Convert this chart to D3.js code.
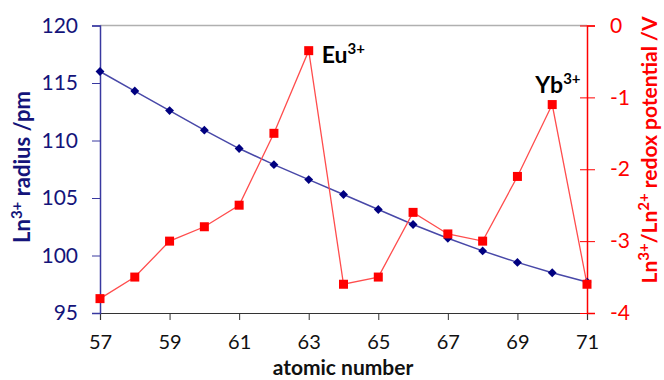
<!DOCTYPE html>
<meta charset="utf-8">
<style>
    body { margin: 0; background: #fff; overflow: hidden; }
    text { font-family: Lato, "Open Sans", sans-serif; }
</style>
<svg id="canvas" width="664" height="380"></svg>
<script src="https://d3js.org/d3.v7.min.js"></script>
<script>

    var atomicNumbers = [57, 58, 59, 60, 61, 62, 63, 64, 65, 66, 67, 68, 69, 70, 71];
    var radius = [116.0, 114.3, 112.6, 110.9, 109.3, 107.9, 106.6, 105.3, 104.0, 102.7, 101.5, 100.4, 99.4, 98.5, 97.7];
    var potential = [-3.8, -3.5, -3.0, -2.8, -2.5, -1.5, -0.35, -3.6, -3.5, -2.6, -2.9, -3.0, -2.1, -1.1, -3.6];
    var xTicks = [57, 59, 61, 63, 65, 67, 69, 71];
    var leftTicks = [95, 100, 105, 110, 115, 120];
    var rightTicks = [-4, -3, -2, -1, 0];
    var notes = [{z: 63, label: "Eu"}, {z: 70, label: "Yb"}];

    var svg = d3.select("svg"),
        pLeft = 100, pRight = 587, pTop = 25.5, pBottom = 313;

    var blueAxis = "#3838a0", navy = "#14147a", red = "#ff0000";

    var x = d3.scaleLinear().domain([57, 71]).range([pLeft, pRight]);
    var yL = d3.scaleLinear().domain([95, 120]).range([pBottom, pTop]);
    var yR = d3.scaleLinear().domain([-4, 0]).range([pBottom, pTop]);

    // top border
    svg.append("line")
       .attr("x1", pLeft).attr("x2", pRight)
       .attr("y1", pTop).attr("y2", pTop)
       .attr("stroke", "#b0b0b0").attr("stroke-width", 1.5);

    // x axis
    var gx = svg.append("g")
                .attr("transform", "translate(0," + pBottom + ")")
                .call(d3.axisBottom(x).tickValues(xTicks).tickSize(7).tickPadding(15).tickFormat(d3.format("d")));
    gx.select(".domain").attr("stroke", "#333").attr("stroke-width", 1.2);
    gx.selectAll(".tick line").attr("stroke", "#333");
    gx.selectAll("text").attr("font-size", 20).attr("fill", "#111").attr("font-family", "Lato, sans-serif");

    // left axis
    var gl = svg.append("g")
                .attr("transform", "translate(" + pLeft + ",0)")
                .call(d3.axisLeft(yL).tickValues(leftTicks).tickSize(8).tickPadding(14));
    gl.select(".domain").attr("stroke", blueAxis).attr("stroke-width", 1.5);
    gl.selectAll(".tick line").attr("stroke", blueAxis);
    gl.selectAll("text").attr("font-size", 21).attr("fill", navy).attr("font-family", "Lato, sans-serif");

    // right axis
    var gr = svg.append("g")
                .attr("transform", "translate(" + pRight + ",0)")
                .call(d3.axisRight(yR).tickValues(rightTicks).tickSize(8).tickPadding(15).tickFormat(d3.format("d")));
    gr.select(".domain").attr("stroke", red).attr("stroke-width", 1.5);
    gr.selectAll(".tick line").attr("stroke", red).attr("x1", -7);
    gr.selectAll("text").attr("font-size", 21).attr("fill", red).attr("font-family", "Lato, sans-serif")
      .text(function(d) { return d < 0 ? "-" + Math.abs(d) : d; });

    // blue series
    var blueData = atomicNumbers.map(function(z, i) { return {z: z, v: radius[i]}; });
    svg.append("path")
       .datum(blueData)
       .attr("fill", "none")
       .attr("stroke", "#4848a8")
       .attr("stroke-width", 1.5)
       .attr("d", d3.line().x(function(d) { return x(d.z); }).y(function(d) { return yL(d.v); }));
    svg.append("g").selectAll("path")
       .data(blueData)
       .enter().append("path")
       .attr("d", d3.symbol().type(d3.symbolDiamond2).size(50))
       .attr("fill", "#000080")
       .attr("transform", function(d) { return "translate(" + x(d.z) + "," + yL(d.v) + ")"; });

    // red series
    var redData = atomicNumbers.map(function(z, i) { return {z: z, v: potential[i]}; });
    svg.append("path")
       .datum(redData)
       .attr("fill", "none")
       .attr("stroke", "#ff4d4d")
       .attr("stroke-width", 1.3)
       .attr("d", d3.line().x(function(d) { return x(d.z); }).y(function(d) { return yR(d.v); }));
    svg.append("g").selectAll("rect")
       .data(redData)
       .enter().append("rect")
       .attr("x", function(d) { return x(d.z) - 4.5; })
       .attr("y", function(d) { return yR(d.v) - 4.5; })
       .attr("width", 9).attr("height", 9)
       .attr("fill", red);

    // annotations
    var noteOffset = {63: [13, 12], 70: [-17, -12]};
    notes.forEach(function(n) {
        var i = atomicNumbers.indexOf(n.z);
        var off = noteOffset[n.z];
        var t = svg.append("text")
                   .attr("x", x(n.z) + off[0])
                   .attr("y", yR(potential[i]) + off[1])
                   .attr("font-size", 23).attr("font-weight", "bold").attr("fill", "#000")
                   .text(n.label);
        t.append("tspan").attr("dy", -9).attr("font-size", 15).text("3+");
    });

    // axis titles
    svg.append("text")
       .attr("x", 343).attr("y", 375)
       .attr("text-anchor", "middle")
       .attr("font-size", 21).attr("font-weight", "bold").attr("fill", "#111")
       .text("atomic number");

    var tl = svg.append("text")
                .attr("transform", "translate(30,167) rotate(-90)")
                .attr("text-anchor", "middle")
                .attr("font-size", 22).attr("font-weight", "bold").attr("fill", navy);
    tl.append("tspan").text("Ln");
    tl.append("tspan").attr("dy", -8).attr("font-size", 15).text("3+");
    tl.append("tspan").attr("dy", 8).text(" radius /pm");

    var tr = svg.append("text")
                .attr("transform", "translate(657,150) rotate(-90)")
                .attr("text-anchor", "middle")
                .attr("font-size", 21).attr("font-weight", "bold").attr("fill", red);
    tr.append("tspan").text("Ln");
    tr.append("tspan").attr("dy", -8).attr("font-size", 15).text("3+");
    tr.append("tspan").attr("dy", 8).text("/Ln");
    tr.append("tspan").attr("dy", -8).attr("font-size", 15).text("2+");
    tr.append("tspan").attr("dy", 8).text(" redox potential /V");

</script>
